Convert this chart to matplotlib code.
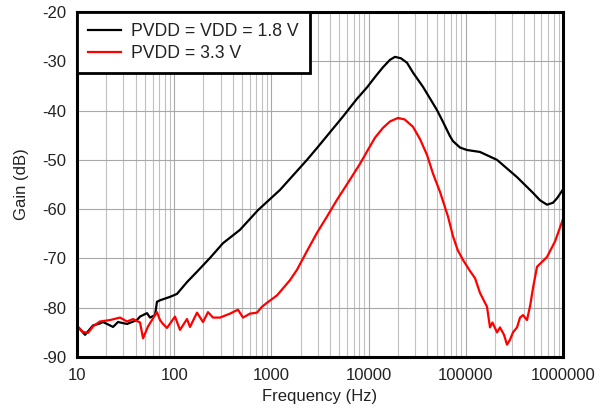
import matplotlib
matplotlib.use("Agg")
import matplotlib.pyplot as plt
from matplotlib.ticker import FixedLocator, LogLocator, NullFormatter

plt.rcParams['font.family'] = ['Liberation Sans', 'DejaVu Sans']

freq_18 = [10.24, 12.1, 14.6, 17.2, 18.5, 20.4, 23.5, 26.4, 32.7, 41.4, 44.5, 52.5,
           56.4, 63.5, 66.5, 71.4, 90.5, 106.9, 135.4, 171.6, 233.5, 317.8, 475, 728,
           1226, 2324, 2945, 5454, 7601, 9628, 11635, 14067, 16609, 18692, 21544,
           24840, 28634, 36294, 50540, 58270, 68770, 73840, 87140, 102870, 140000,
           209400, 336400, 491400, 580000, 684700, 789000, 867700, 1000000]
gain_18 = [-83.9, -85.5, -83.6, -83.2, -82.9, -83.3, -83.9, -82.9, -83.3, -82.5, -81.8, -81.1,
           -82.0, -81.5, -78.8, -78.5, -77.8, -77.2, -74.8, -72.7, -69.9, -66.9, -64.2, -60.2,
           -56.1, -50.0, -47.6, -41.2, -37.6, -35.3, -33.2, -31.2, -29.7, -29.1, -29.4,
           -30.3, -32.3, -35.2, -39.9, -42.3, -45.2, -46.2, -47.5, -48.0, -48.4,
           -50.0, -53.5, -56.7, -58.2, -59.1, -58.7, -57.8, -56.0]

freq_33 = [10.24, 11.5, 13.0, 14.6, 17.2, 21.9, 27.7, 32.7, 37.7, 44.5, 47.8, 53.8, 63.5,
           66.5, 71.4, 76.7, 84.3, 101.9, 114.7, 135.4, 145.4, 171.6, 197.9, 222.7, 250.7,
           296, 375, 453, 510, 602, 711, 800, 901, 1142, 1554, 1834, 2324, 2945, 3733,
           4731, 6438, 8157, 9628, 11635, 14067, 16609, 20070, 23500, 28634, 33807, 39900,
           45980, 54280, 65590, 73840, 82500, 93590, 110000, 124380, 140000, 165200, 177400,
           188000, 209400, 224900, 247200, 265500, 284900, 305900, 336400, 361200, 387700,
           426300, 460000, 491400, 540200, 684700, 830000, 1000000]
gain_33 = [-83.9, -84.9, -85.1, -83.8, -82.8, -82.5, -82.0, -82.8, -82.3, -83.0, -86.2, -83.8, -81.5,
           -80.9, -82.5, -83.3, -84.1, -81.8, -84.5, -82.3, -83.9, -81.0, -82.9, -80.9, -82.0,
           -82.0, -81.2, -80.4, -82.0, -81.2, -81.0, -79.8, -79.0, -77.5, -74.4, -72.3, -68.5, -64.8, -61.5,
           -58.1, -54.0, -50.8, -48.3, -45.5, -43.5, -42.2, -41.5, -41.8, -43.3, -45.8, -49.0,
           -52.8, -56.5, -61.5, -65.5, -68.3, -70.3, -72.5, -74.0, -77.0, -79.8, -84.0,
           -83.0, -85.0, -84.0, -85.5, -87.5, -86.5, -85.0, -84.0, -82.0, -81.5,
           -82.5, -79.5, -76.0, -71.7, -69.7, -66.5, -62.0]

labels = ['PVDD = VDD = 1.8 V', 'PVDD = 3.3 V']
xticks = [10, 100, 1000, 10000, 100000, 1000000]
yticks = [-90, -80, -70, -60, -50, -40, -30, -20]

fig = plt.figure(figsize=(6.08, 4.13), dpi=100)
ax = fig.add_axes([77/608, 1-357/413, (563-77)/608, (357-12)/413])

ax.plot(freq_18, gain_18, color='black', lw=1.6, label=labels[0])
ax.plot(freq_33, gain_33, color='#ff0000', lw=1.6, label=labels[1])

ax.set_xscale('log')
ax.set_xlim(10, 1e6)
ax.set_ylim(-90, -20)
ax.xaxis.set_major_locator(FixedLocator(xticks))
ax.set_xticklabels([str(t) for t in xticks])
ax.xaxis.set_minor_locator(LogLocator(base=10, subs=range(2, 10), numticks=100))
ax.xaxis.set_minor_formatter(NullFormatter())
ax.set_yticks(yticks)
ax.set_yticklabels([str(t) for t in yticks])

ax.grid(True, which='major', color='#a8a8a8', lw=0.8)
ax.grid(True, which='minor', axis='x', color='#c0c0c0', lw=0.8)
ax.set_axisbelow(True)
ax.tick_params(which='both', length=0, labelsize=12, colors='#222222', pad=8)

for s in ax.spines.values():
    s.set_linewidth(2.2)
    s.set_color('black')

ax.set_xlabel('Frequency (Hz)', fontsize=12, color='#222222', labelpad=4)
ax.set_ylabel('Gain (dB)', fontsize=12, color='#222222', labelpad=9)

leg = ax.legend(loc='upper left', borderaxespad=0, fancybox=False, framealpha=1,
                fontsize=12.7, handlelength=1.85, handletextpad=0.55, borderpad=0.65,
                labelspacing=0.25)
leg.get_frame().set_edgecolor('black')
leg.get_frame().set_linewidth(2)
for t in leg.get_texts():
    t.set_color('#222222')

fig.savefig('out.png', dpi=100)
